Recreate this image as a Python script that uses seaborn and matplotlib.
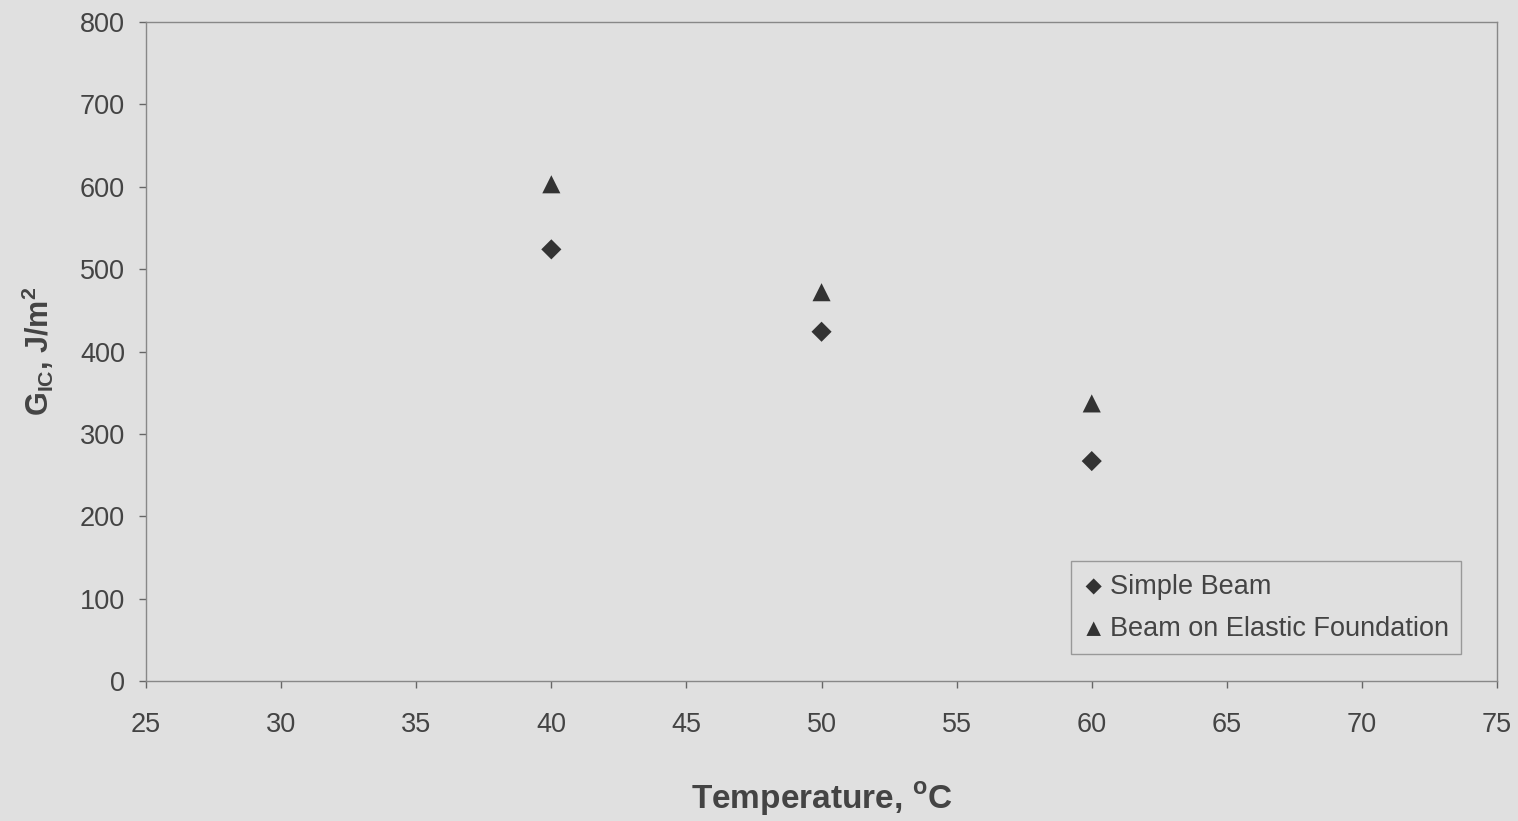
import pandas as pd
import seaborn as sns
import matplotlib.pyplot as plt

temperature = [40, 50, 60]
simple_beam = [524, 424, 267]
elastic_foundation = [603, 472, 337]
series_names = ["Simple Beam", "Beam on Elastic Foundation"]

df_simple = pd.DataFrame({"temp": temperature, "gic": simple_beam})
df_elastic = pd.DataFrame({"temp": temperature, "gic": elastic_foundation})

bg = "#e0e0e0"
sns.set_style("white")
plt.rcParams["font.family"] = ["Liberation Sans", "DejaVu Sans"]

fig = plt.figure(figsize=(15.18, 8.21), dpi=100, facecolor=bg)
ax = fig.add_axes([0.0962, 0.1705, 0.89, 0.8027])
ax.set_facecolor(bg)

sns.scatterplot(data=df_simple, x="temp", y="gic", marker="D", s=105,
                color="#333333", edgecolor="none", ax=ax, label=series_names[0])
sns.scatterplot(data=df_elastic, x="temp", y="gic", marker="^", s=170,
                color="#333333", edgecolor="none", ax=ax, label=series_names[1])

ax.set_xlim(25, 75)
ax.set_ylim(0, 800)
ax.set_xticks(range(25, 80, 5))
ax.set_yticks(range(0, 900, 100))
ax.tick_params(axis="both", labelsize=19.5, colors="#666666", labelcolor="#444444",
               length=5, width=1, direction="out", left=True, bottom=True)
ax.tick_params(axis="x", pad=17)
ax.tick_params(axis="y", pad=10)
for sp in ax.spines.values():
    sp.set_color("#888888")
    sp.set_linewidth(1)

ax.set_xlabel("Temperature, $^{\\mathregular{o}}$C", fontsize=24, fontweight="bold",
              color="#444444", labelpad=31)
ax.set_ylabel("G$_{\\mathregular{IC}}$, J/m$^{\\mathregular{2}}$", fontsize=22,
              fontweight="bold", color="#444444", labelpad=17)

leg = ax.legend(loc="lower right", bbox_to_anchor=(0.9734, 0.041), borderaxespad=0,
                fontsize=19.5, frameon=True, fancybox=False, handletextpad=0.2,
                borderpad=0.45, labelspacing=0.6, handlelength=0.8, markerscale=0.8)
leg.get_frame().set_facecolor(bg)
leg.get_frame().set_edgecolor("#888888")
for t in leg.get_texts():
    t.set_color("#444444")

fig.savefig("out.png", dpi=100, facecolor=bg)
